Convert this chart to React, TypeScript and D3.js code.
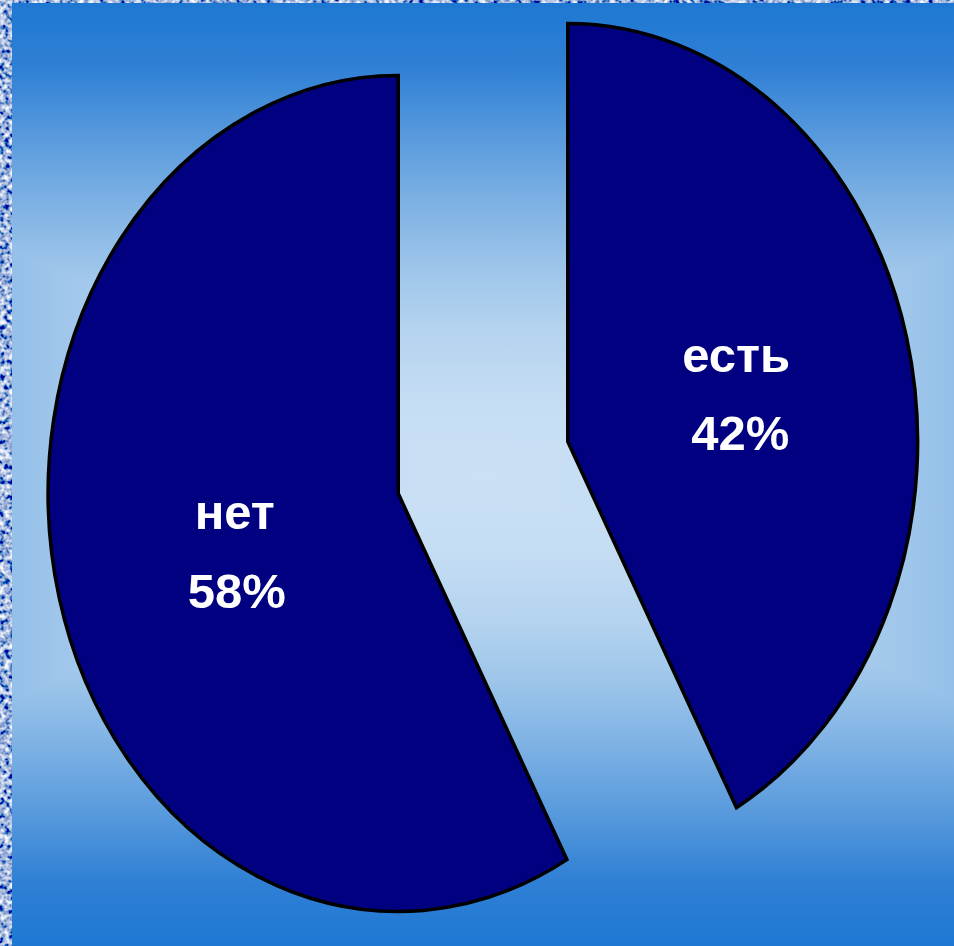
import React from "react";
import * as d3 from "d3";

const categories = ["есть", "нет"];
const values = [42, 58];
const percentLabels = ["42%", "58%"];

const WIDTH = 954;
const HEIGHT = 946;

export default function App() {
  const bgX0 = 12;
  const bgY0 = 3;
  const cx = (bgX0 + WIDTH) / 2;
  const cy = (bgY0 + HEIGHT) / 2;
  const H = HEIGHT - cy;
  const W = 985;

  const stops: [number, string][] = [
    [0, "#cae0f5"],
    [0.16, "#c5ddf3"],
    [0.31, "#b4d3ef"],
    [0.44, "#9dc5ea"],
    [0.59, "#7aafe3"],
    [0.71, "#5a9bdd"],
    [0.86, "#3080d5"],
    [1, "#1e78d2"],
  ];
  const mirrored: [number, string][] = [
    ...stops.slice().reverse().map(([t, c]) => [(1 - t) / 2, c] as [number, string]),
    ...stops.slice(1).map(([t, c]) => [(1 + t) / 2, c] as [number, string]),
  ];

  const pieCx = 483;
  const pieCy = 467.5;
  const rx = 350;
  const ry = 418;
  const explode = 0.25;

  const pie = d3
    .pie<number>()
    .sort(null)
    .value((d) => d)
    .startAngle(0)
    .endAngle(2 * Math.PI);
  const arcs = pie(values);
  const arc = d3.arc<d3.PieArcDatum<number>>().innerRadius(0).outerRadius(1);

  const nameShift = [-1, 6];
  const pctShift = [3, 8];
  const nameDy = [-18, -16];
  const pctDy = [60, 63];

  return (
    <svg
      width={WIDTH}
      height={HEIGHT}
      style={{ position: "absolute", left: 0, top: 0, display: "block" }}
    >
      <defs>
        <linearGradient id="vgrad" gradientUnits="userSpaceOnUse" x1={0} y1={cy - H} x2={0} y2={cy + H}>
          {mirrored.map(([o, c], i) => (
            <stop key={i} offset={o} stopColor={c} />
          ))}
        </linearGradient>
        <linearGradient id="hgrad" gradientUnits="userSpaceOnUse" x1={cx - W} y1={0} x2={cx + W} y2={0}>
          {mirrored.map(([o, c], i) => (
            <stop key={i} offset={o} stopColor={c} />
          ))}
        </linearGradient>
        <filter id="noise" x="0" y="0" width="100%" height="100%">
          <feTurbulence type="fractalNoise" baseFrequency="0.2" numOctaves={2} seed={7} />
          <feColorMatrix
            type="matrix"
            values="2.2 0 0 0 -0.75  2.0 0 0 0 -0.55  1.3 0 0 0 0.05  0 0 0 0 1"
          />
        </filter>
      </defs>

      <rect x={0} y={0} width={WIDTH} height={HEIGHT} fill="#5d7fbd" />
      <rect x={0} y={0} width={WIDTH} height={HEIGHT} filter="url(#noise)" />

      <rect x={bgX0} y={bgY0} width={WIDTH - bgX0} height={HEIGHT - bgY0} fill="url(#vgrad)" />
      <clipPath id="bgclip">
        <rect x={bgX0} y={bgY0} width={WIDTH - bgX0} height={HEIGHT - bgY0} />
      </clipPath>
      <g clipPath="url(#bgclip)">
        <polygon
          points={`${cx},${cy} ${cx - W},${cy - H} ${cx - W},${cy + H}`}
          fill="url(#hgrad)"
        />
        <polygon
          points={`${cx},${cy} ${cx + W},${cy - H} ${cx + W},${cy + H}`}
          fill="url(#hgrad)"
        />
      </g>

      {arcs.map((a, i) => {
        const mid = (a.startAngle + a.endAngle) / 2;
        const dx = Math.sin(mid) * explode * rx;
        const dy = -Math.cos(mid) * explode * ry;
        const sx = pieCx + dx;
        const sy = pieCy + dy;
        const lx = sx + Math.sin(mid) * 0.5 * rx;
        const ly = sy - Math.cos(mid) * 0.5 * ry;
        return (
          <g key={categories[i]}>
            <path
              d={arc(a) || ""}
              transform={`translate(${sx},${sy}) scale(${rx},${ry})`}
              fill="#000080"
              stroke="#000000"
              strokeWidth={3.5}
              strokeLinejoin="miter"
              vectorEffect="non-scaling-stroke"
            />
            <text
              x={lx + nameShift[i]}
              y={ly + nameDy[i]}
              textAnchor="middle"
              fill="#ffffff"
              fontFamily="Arial, 'Liberation Sans', sans-serif"
              fontWeight="bold"
              fontSize={49}
            >
              {categories[i]}
            </text>
            <text
              x={lx + pctShift[i]}
              y={ly + pctDy[i]}
              textAnchor="middle"
              fill="#ffffff"
              fontFamily="Arial, 'Liberation Sans', sans-serif"
              fontWeight="bold"
              fontSize={49}
            >
              {percentLabels[i]}
            </text>
          </g>
        );
      })}
    </svg>
  );
}
